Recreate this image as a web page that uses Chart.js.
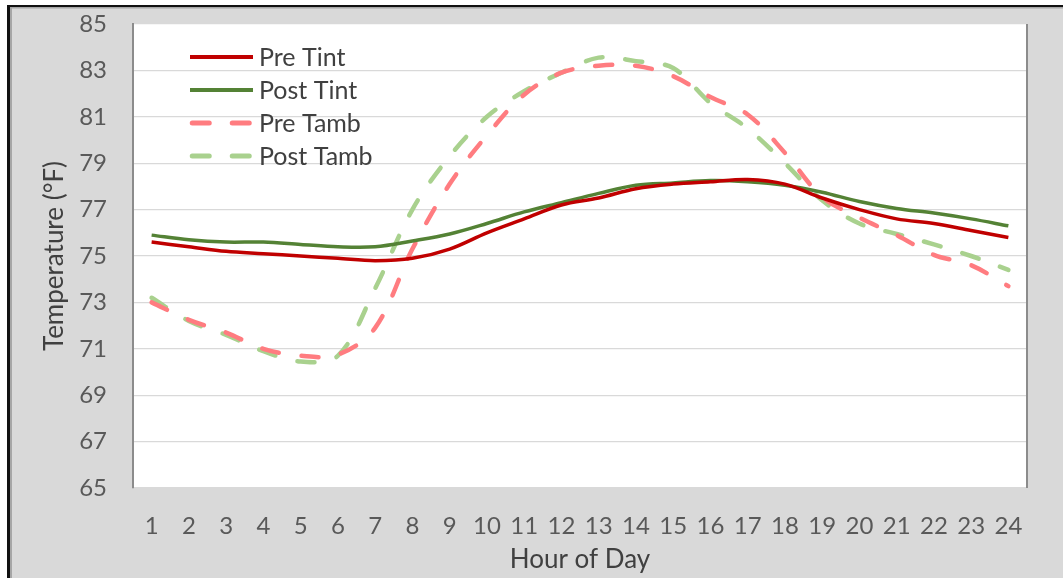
<!DOCTYPE html>
<html><head><meta charset="utf-8">
<script src="https://cdn.jsdelivr.net/npm/chart.js@4.4.1/dist/chart.umd.min.js"></script>
<style>
html,body{margin:0;padding:0;background:#fff;}
#wrap{position:relative;width:1063px;height:578px;}
</style></head><body>
<div id="wrap"><canvas id="c" width="1063" height="578"></canvas></div>
<script>
const hours = ['1','2','3','4','5','6','7','8','9','10','11','12','13','14','15','16','17','18','19','20','21','22','23','24'];
const preTint  = [75.6, 75.4, 75.2, 75.1, 75.0, 74.9, 74.8, 74.9, 75.3, 76.0, 76.6, 77.2, 77.5, 77.9, 78.1, 78.2, 78.3, 78.1, 77.5, 77.0, 76.6, 76.4, 76.1, 75.8];
const postTint = [75.9, 75.7, 75.6, 75.6, 75.5, 75.4, 75.4, 75.65, 75.95, 76.4, 76.9, 77.3, 77.7, 78.05, 78.15, 78.25, 78.2, 78.05, 77.75, 77.35, 77.05, 76.85, 76.6, 76.3];
const preTamb  = [73.0, 72.25, 71.7, 71.0, 70.7, 70.75, 71.9, 75.3, 78.1, 80.2, 81.95, 82.9, 83.2, 83.2, 82.75, 81.85, 81.1, 79.45, 77.55, 76.65, 75.9, 75.05, 74.6, 73.7];
const postTamb = [73.2, 72.2, 71.6, 70.9, 70.45, 70.7, 73.6, 77.0, 79.3, 81.0, 82.1, 82.9, 83.55, 83.4, 83.1, 81.6, 80.5, 79.0, 77.4, 76.4, 75.95, 75.5, 75.0, 74.4];
const yTicks = [65, 67, 69, 71, 73, 75, 77, 79, 81, 83, 85];
const seriesNames = ['Pre Tint', 'Post Tint', 'Pre Tamb', 'Post Tamb'];

const FONT = 'Lato, "Open Sans", sans-serif';

const bgPlugin = {
  id: 'bg',
  beforeDraw(chart) {
    const ctx = chart.ctx, a = chart.chartArea, W = chart.width, H = chart.height;
    ctx.save();
    ctx.fillStyle = '#ffffff'; ctx.fillRect(0, 0, W, H);
    ctx.fillStyle = '#d9d9d9'; ctx.fillRect(8, 6, W - 8, H - 6);
    ctx.fillStyle = '#a6a6a6'; ctx.fillRect(10, 7, 2, H - 7); ctx.fillRect(10, 7, W - 10, 1.5);
    ctx.fillStyle = '#111111'; ctx.fillRect(7, 5, 3, H - 5); ctx.fillRect(7, 5, W - 7, 2);
    ctx.fillStyle = '#ffffff'; ctx.fillRect(a.left, a.top, a.right - a.left, a.bottom - a.top);
    ctx.restore();
  },
  beforeDatasetsDraw(chart) {
    const ctx = chart.ctx, a = chart.chartArea;
    ctx.save();
    ctx.strokeStyle = '#8c8c8c'; ctx.lineWidth = 2;
    ctx.beginPath(); ctx.moveTo(a.right, a.top); ctx.lineTo(a.right, a.bottom); ctx.stroke();
    ctx.restore();
  }
};

const legendPlugin = {
  id: 'insideLegend',
  afterDatasetsDraw(chart) {
    const ctx = chart.ctx, a = chart.chartArea;
    const x0 = a.left + 57, x1 = a.left + 120, tx = a.left + 126, y0 = a.top + 33, dy = 33;
    ctx.save();
    chart.data.datasets.forEach((ds, i) => {
      const y = y0 + i * dy;
      ctx.strokeStyle = ds.borderColor;
      ctx.lineWidth = ds.borderWidth + 0.5;
      const dash = ds.borderDash || [];
      ctx.setLineDash(dash);
      ctx.lineCap = dash.length ? 'round' : 'butt';
      const inset = dash.length ? ds.borderWidth / 2 : 0;
      ctx.beginPath(); ctx.moveTo(x0 + inset, y); ctx.lineTo(x1, y); ctx.stroke();
      ctx.setLineDash([]);
      ctx.fillStyle = '#404040';
      ctx.font = '25px ' + FONT;
      ctx.textBaseline = 'middle';
      ctx.textAlign = 'left';
      ctx.fillText(ds.label, tx, y + 1);
    });
    ctx.restore();
  }
};

const dashed = [17, 23];
const chart = new Chart(document.getElementById('c'), {
  type: 'line',
  data: {
    labels: hours,
    datasets: [
      { label: seriesNames[0], data: preTint,  borderColor: '#c00000', borderWidth: 3.5 },
      { label: seriesNames[1], data: postTint, borderColor: '#548235', borderWidth: 3.5 },
      { label: seriesNames[2], data: preTamb,  borderColor: '#ff7c80', borderWidth: 4.5, borderDash: dashed, borderCapStyle: 'round' },
      { label: seriesNames[3], data: postTamb, borderColor: '#a9d18e', borderWidth: 4.5, borderDash: dashed, borderCapStyle: 'round' }
    ]
  },
  options: {
    responsive: false,
    animation: false,
    devicePixelRatio: 1,
    layout: { padding: { left: 10, top: 24, right: 36, bottom: 0 } },
    elements: {
      point: { radius: 0, hoverRadius: 0 },
      line: { tension: 0.35, fill: false, borderJoinStyle: 'round' }
    },
    plugins: { legend: { display: false }, tooltip: { enabled: false } },
    scales: {
      x: {
        type: 'category',
        offset: true,
        grid: { display: false, drawTicks: false },
        border: { display: false },
        ticks: { color: '#595959', font: { family: FONT, size: 24 }, padding: 24, autoSkip: false, maxRotation: 0, minRotation: 0 },
        title: { display: true, text: 'Hour of Day', color: '#404040', font: { family: FONT, size: 26 }, padding: { top: 0, bottom: 3 } },
        afterFit(scale) { scale.height = 90; }
      },
      y: {
        min: 65, max: 85,
        afterBuildTicks(scale) { scale.ticks = yTicks.map(v => ({ value: v })); },
        grid: { color: '#d9d9d9', lineWidth: 1.2, drawTicks: true, tickLength: 24, tickColor: 'rgba(0,0,0,0)' },
        border: { color: '#8c8c8c', width: 2 },
        ticks: { color: '#595959', font: { family: FONT, size: 24 }, padding: 2 },
        title: { display: true, text: 'Temperature (°F)', color: '#404040', font: { family: FONT, size: 26 }, padding: { top: 29, bottom: 0 } },
        afterFit(scale) { scale.width = 123; }
      }
    }
  },
  plugins: [bgPlugin, legendPlugin]
});
</script>
</body></html>
